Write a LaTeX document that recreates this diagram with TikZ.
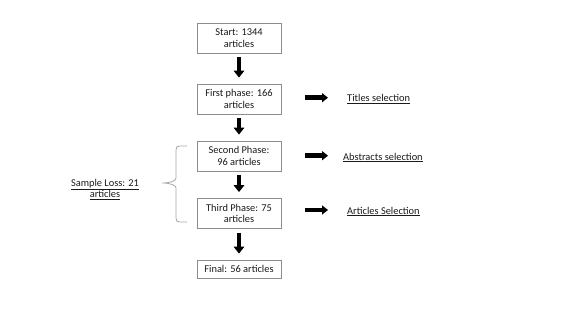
\documentclass[tikz,border=0pt]{standalone}
\usepackage{fontspec}
\setmainfont{Carlito}
\usetikzlibrary{arrows.meta}
\definecolor{boxgray}{HTML}{8C8C8C}
\definecolor{bracegray}{HTML}{A6A6A6}
\definecolor{txt}{HTML}{1A1A1A}
\begin{document}
\begin{tikzpicture}[x=1pt,y=-1pt,
  stepbox/.style={draw=boxgray,line width=0.8pt,minimum width=84pt,minimum height=30pt,
    align=center,inner sep=1pt,text=txt,font=\fontsize{10.4}{11.8}\selectfont},
  lbl/.style={inner sep=0pt,text=txt,font=\fontsize{10.4}{11.8}\selectfont,align=center},
  fatdown/.style={line width=4.5pt,-{Triangle[width=10.5pt,length=7pt]},shorten <=4pt,shorten >=6pt},
  fatright/.style={line width=4.5pt,-{Triangle[width=9pt,length=6pt]},shorten <=24pt}
]
\useasboundingbox (0,0) rectangle (567,319);
\node[stepbox] (b1) at (239,38) {Start: 1344\\articles};
\node[stepbox] (b2) at (239,99) {First phase: 166\\articles};
\node[stepbox] (b3) at (239,156) {Second Phase:\\96 articles};
\node[stepbox] (b4) at (239,213.5) {Third Phase: 75\\articles};
\node[stepbox,minimum height=18pt] (b5) at (239,269) {Final: 56 articles};

\draw[fatdown] (b1) -- (b2);
\draw[fatdown] (b2) -- (b3);
\draw[fatdown] (b3) -- (b4);
\draw[fatdown] (b4) -- (b5);

\node[lbl,anchor=west] (t1) at (347,99) {\underline{Titles selection}};
\node[lbl,anchor=west] (t2) at (343,157.5) {\underline{Abstracts selection}};
\node[lbl,anchor=west] (t3) at (347,211.5) {\underline{Articles Selection}};

\coordinate (e1) at (328,97.7);
\coordinate (e2) at (328,155.7);
\coordinate (e3) at (328,210);
\draw[fatright] (e1 -| b2.east) -- (e1);
\draw[fatright] (e2 -| b3.east) -- (e2);
\draw[fatright] (e3 -| b4.east) -- (e3);

\node[lbl] (sl) at (105,189.5) {\underline{Sample Loss: 21}\\\underline{articles}};

\draw[bracegray,line width=0.8pt] (187,146) -- (180,146)
  .. controls (177,146) and (176,147) .. (176,150) -- (176,178)
  .. controls (176,181) and (170,183) .. (162,183)
  .. controls (170,183) and (176,185) .. (176,188) -- (176,218)
  .. controls (176,221) and (177,222) .. (180,222) -- (187,222);
\end{tikzpicture}
\end{document}
